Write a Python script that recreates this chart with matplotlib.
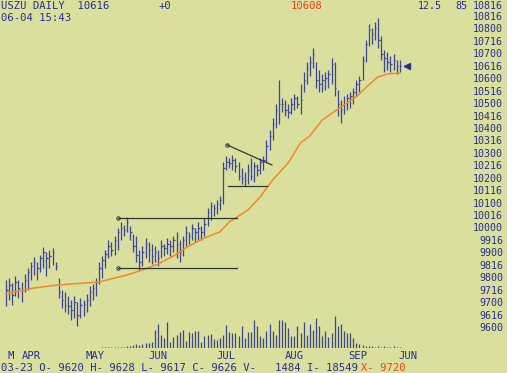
import numpy as np
import matplotlib.pyplot as plt

# daily bars, prices in points (10616 on screen = 106 16/32)
highs = [97.93, 98.01, 97.81, 98.09, 97.93, 97.85, 98.17, 98.41, 98.65, 98.85,
         98.65, 98.93, 99.26, 99.06, 99.14, 99.22, 98.65, 98.01, 97.53, 97.45,
         97.29, 97.13, 97.29, 97.05, 97.21, 97.13, 97.37, 97.69, 97.77, 98.01,
         98.65, 98.89, 99.14, 99.54, 99.46, 99.70, 100.02, 100.26, 100.14, 100.46,
         100.10, 99.78, 99.70, 99.14, 99.30, 99.62, 99.46, 99.38, 99.30, 99.14,
         99.54, 99.38, 99.62, 99.54, 99.70, 99.86, 99.54, 99.70, 100.10, 99.86,
         100.18, 100.02, 100.26, 100.10, 100.42, 100.82, 101.07, 100.98, 101.15, 101.31,
         102.67, 102.91, 102.83, 102.95, 102.83, 102.67, 102.43, 102.27, 102.59, 102.83,
         102.67, 102.59, 102.83, 102.91, 103.56, 103.96, 104.44, 105.00, 105.97, 105.25,
         105.17, 105.00, 105.25, 105.41, 105.33, 105.81, 106.29, 106.69, 106.93, 107.26,
         106.69, 106.37, 106.21, 106.29, 106.37, 106.85, 106.69, 105.57, 105.17, 105.33,
         105.41, 105.49, 105.65, 105.97, 106.13, 106.93, 107.58, 108.22, 108.06, 108.30,
         108.46, 107.74, 107.18, 107.10, 106.93, 107.01, 106.77, 106.77]
lows = [96.88, 97.13, 96.92, 97.29, 97.21, 97.05, 97.45, 97.53, 97.93, 98.13,
        97.93, 98.25, 98.41, 98.09, 98.41, 98.53, 98.33, 97.21, 96.80, 96.64,
        96.56, 96.32, 96.40, 96.08, 96.40, 96.48, 96.64, 96.88, 97.13, 97.29,
        97.77, 98.01, 98.41, 98.81, 98.89, 98.93, 99.14, 99.54, 99.70, 99.86,
        99.54, 99.06, 98.65, 98.33, 98.49, 98.81, 98.65, 98.57, 98.65, 98.49,
        98.81, 98.89, 98.97, 98.89, 99.06, 98.81, 98.65, 98.89, 99.30, 99.38,
        99.54, 99.46, 99.54, 99.54, 99.70, 100.10, 100.34, 100.50, 100.58, 100.74,
        100.98, 102.35, 102.43, 102.35, 102.27, 101.95, 101.79, 101.71, 101.79, 101.95,
        101.87, 102.11, 102.19, 102.35, 102.67, 103.16, 103.56, 104.04, 104.20, 104.68,
        104.52, 104.44, 104.60, 104.76, 104.84, 104.60, 105.49, 105.81, 106.13, 106.45,
        105.65, 105.49, 105.49, 105.57, 105.65, 105.81, 105.33, 104.52, 104.24, 104.60,
        104.76, 104.84, 105.00, 105.33, 105.49, 105.97, 106.69, 107.34, 107.42, 107.58,
        107.26, 106.77, 106.29, 106.37, 106.29, 106.37, 106.21, 106.29]
closes = [97.53, 97.73, 97.33, 97.85, 97.61, 97.53, 97.93, 98.25, 98.49, 98.65,
          98.41, 98.81, 99.06, 98.81, 98.89, 99.06, 98.49, 97.45, 97.13, 96.92,
          96.88, 96.72, 97.05, 96.52, 96.92, 96.96, 97.13, 97.45, 97.61, 97.85,
          98.41, 98.73, 98.97, 99.30, 99.14, 99.54, 99.86, 100.02, 99.94, 100.26,
          99.86, 99.30, 98.93, 98.65, 99.06, 99.38, 99.14, 98.89, 99.06, 98.81,
          99.30, 99.22, 99.38, 99.30, 99.54, 99.38, 99.06, 99.54, 99.86, 99.70,
          100.02, 99.86, 100.02, 99.86, 100.18, 100.66, 100.90, 100.82, 100.98, 101.15,
          102.43, 102.67, 102.63, 102.75, 102.51, 102.11, 102.03, 101.95, 102.35, 102.11,
          102.51, 102.35, 102.67, 102.75, 103.32, 103.72, 104.20, 104.76, 105.00, 105.00,
          104.76, 104.68, 105.00, 105.25, 105.00, 105.17, 105.97, 106.45, 106.69, 107.01,
          105.97, 105.81, 105.97, 106.05, 106.21, 106.61, 105.65, 105.00, 104.76, 105.00,
          105.25, 105.33, 105.49, 105.81, 105.97, 106.77, 107.42, 107.98, 107.82, 108.06,
          107.58, 107.01, 106.85, 106.69, 106.61, 106.77, 106.53, 106.53]
volume = [0] * 31 + [1, 1, 1, 1, 1, 1, 1, 1, 2,
          2, 3, 4, 3, 4, 5, 5, 6, 18, 24,
          13, 10, 26, 6, 11, 13, 16, 18, 7, 16,
          15, 17, 17, 6, 12, 13, 14, 9, 8, 10,
          13, 23, 16, 15, 15, 12, 22, 10, 16, 16,
          28, 22, 12, 10, 17, 24, 17, 13, 28, 28,
          26, 20, 12, 12, 22, 15, 26, 13, 24, 18,
          30, 22, 12, 17, 11, 15, 32, 22, 24, 17,
          15, 15, 10, 5, 4, 3, 2, 2, 2, 1,
          2, 1, 2, 1, 1, 2, 1, 1]

# moving average read at a few bars
ma_idx = [0, 9, 17, 30, 39, 44, 49, 54, 58, 64, 69, 72, 78, 82, 86, 91, 95, 98,
          102, 108, 113, 117, 120, 123, 127]
ma_vals = [97.37, 97.61, 97.73, 97.85, 98.13, 98.33, 98.57, 98.89, 99.22, 99.62,
           99.86, 100.26, 100.74, 101.27, 101.95, 102.63, 103.44, 103.72, 104.36,
           104.88, 105.29, 105.77, 106.09, 106.21, 106.25]

months = ['M', 'APR', 'MAY', 'JUN', 'JUL', 'AUG', 'SEP', 'JUN']
month_at = [0.6, 5.2, 25.5, 45.8, 68, 90, 110.3, 126.5]

resist = 100.44
support = 98.41
box_from, box_to = 36.1, 74.5
tri_x = [71.3, 85.8]
tri_y = [103.36, 102.55]
tri_base = 101.71
tri_from, tri_to = 71.6, 84.2
last = 106.53

bg = '#dadf9e'
txt = '#262e8c'
red = '#f2400f'
W, H = 507, 373
mono = 'DejaVu Sans Mono'

fig = plt.figure(figsize=(W / 100, H / 100), dpi=100, facecolor=bg)
ax = fig.add_axes([0, 0, 1, 1])
ax.set_facecolor(bg)
ax.axis('off')
# bar i sits at pixel 6 + 3.1*i
ax.set_xlim(-6 / 3.1, (W - 6) / 3.1)
ax.set_ylim(94.191, 109.183)

idx = np.arange(len(closes))
ax.vlines(idx, lows, highs, color='#3d4599', lw=0.9)
ax.hlines(closes, idx, idx + 0.5, color='#3d4599', lw=0.9)
ax.plot(ma_idx, ma_vals, color='#f0892a', lw=1.1)

lc = '#2e3a2c'
for lvl in [resist, support]:
    ax.plot([box_from, box_to], [lvl, lvl], color=lc, lw=0.9)
    ax.plot([box_from], [lvl], 'o', ms=2.5, mfc='none', mec=lc, mew=0.7)
ax.plot(tri_x, tri_y, color=lc, lw=0.9)
ax.plot(tri_x[:1], tri_y[:1], 'o', ms=2.5, mfc='none', mec=lc, mew=0.7)
ax.plot([tri_from, tri_to], [tri_base, tri_base], color=lc, lw=0.9)
ax.plot([129.4], [last], marker='<', ms=4, color=txt)
ax.plot([128.3, 129.2], [last, last], color=txt, lw=0.8)

# price scale on the right
ylv = np.arange(96.0, 108.51, 0.5)
for v in ylv:
    lab = '%d%s' % (int(v), '16' if v % 1 else '00')
    ax.text(503 / W, v, lab, transform=ax.get_yaxis_transform(), ha='right',
            va='center', family=mono, fontsize=7.2, color=txt)

vax = fig.add_axes([0, 25 / H, 1, 40 / H])
vax.axis('off')
vax.set_xlim(ax.get_xlim())
vax.set_ylim(0, 40)
vax.vlines(idx, 0, volume, color='#3d4788', lw=0.9)

# month row sits at pixel 356
for m, p in zip(months, month_at):
    ax.text(p, 1 - 356 / H, m, transform=ax.get_xaxis_transform(), ha='left',
            va='center', family=mono, fontsize=7.6, color=txt)


def put(x, y, s, c=txt, ha='left', size=7.6):
    fig.text(x / W, 1 - y / H, s, ha=ha, va='center', color=c,
             family=mono, fontsize=size)


put(1, 6, 'USZU DAILY  10616')
put(159, 6, '+0')
put(291, 6, '10608', red)
put(418, 6, '12.5', size=7.2)
put(455, 6, '85', size=7.2)
put(503, 6, '10816', ha='right', size=7.2)
put(1, 18, '06-04 15:43')
put(1, 368, '03-23 O- 9620 H- 9628 L- 9617 C- 9626 V-   1484 I- 18549')
put(361, 368, 'X- 9720', red)

fig.savefig('out.png', dpi=100, facecolor=bg)
